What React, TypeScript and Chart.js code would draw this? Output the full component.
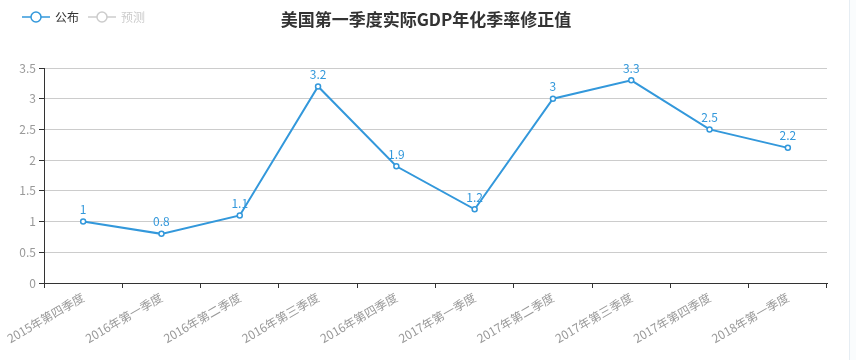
import React, { useEffect, useRef } from "react";
import { Chart, registerables } from "chart.js";

Chart.register(...registerables);

const categories = [
  "2015年第四季度",
  "2016年第一季度",
  "2016年第二季度",
  "2016年第三季度",
  "2016年第四季度",
  "2017年第一季度",
  "2017年第二季度",
  "2017年第三季度",
  "2017年第四季度",
  "2018年第一季度",
];
const publishedValues = [1, 0.8, 1.1, 3.2, 1.9, 1.2, 3, 3.3, 2.5, 2.2];
const forecastValues: (number | null)[] = [null, null, null, null, null, null, null, null, null, null];
const titleText = "美国第一季度实际GDP年化季率修正值";
const legendLabels = ["公布", "预测"];

const BLUE = "#3398DB";
const FONT = "'Noto Sans CJK SC', 'Noto Sans', sans-serif";

const overlayPlugin = {
  id: "overlay",
  afterDatasetsDraw(chart: any) {
    const ctx = chart.ctx;
    ctx.save();
    // data labels
    const meta = chart.getDatasetMeta(0);
    ctx.font = `12px ${FONT}`;
    ctx.fillStyle = BLUE;
    ctx.textAlign = "center";
    ctx.textBaseline = "bottom";
    meta.data.forEach((pt: any, i: number) => {
      const v = publishedValues[i];
      ctx.fillText(String(v), pt.x, pt.y - 6);
    });
    // title
    ctx.font = `bold 17px ${FONT}`;
    ctx.fillStyle = "#333";
    ctx.textBaseline = "middle";
    ctx.fillText(titleText, 426, 20);
    // legend
    const items = [
      { x: 22, color: BLUE, text: legendLabels[0], textColor: "#333" },
      { x: 88, color: "#ccc", text: legendLabels[1], textColor: "#ccc" },
    ];
    items.forEach((it) => {
      ctx.strokeStyle = it.color;
      ctx.lineWidth = 1.5;
      ctx.beginPath();
      ctx.moveTo(it.x, 17);
      ctx.lineTo(it.x + 28, 17);
      ctx.stroke();
      ctx.beginPath();
      ctx.arc(it.x + 14, 17, 5, 0, Math.PI * 2);
      ctx.fillStyle = "#fff";
      ctx.fill();
      ctx.stroke();
      ctx.font = `12px ${FONT}`;
      ctx.fillStyle = it.textColor;
      ctx.textAlign = "left";
      ctx.textBaseline = "middle";
      ctx.fillText(it.text, it.x + 33, 17);
    });
    ctx.restore();
  },
};

export default function App() {
  const ref = useRef<HTMLCanvasElement>(null);
  useEffect(() => {
    if (!ref.current) return;
    const chart = new Chart(ref.current, {
      type: "line",
      data: {
        labels: categories,
        datasets: [
          {
            label: legendLabels[0],
            data: publishedValues,
            borderColor: BLUE,
            backgroundColor: "#fff",
            borderWidth: 2,
            pointRadius: 2.5,
            pointBorderWidth: 1.5,
            pointBackgroundColor: "#fff",
            pointBorderColor: BLUE,
            tension: 0,
          },
          {
            label: legendLabels[1],
            data: forecastValues,
            borderColor: "#ccc",
            hidden: true,
          },
        ],
      },
      options: {
        animation: false,
        responsive: false,
        maintainAspectRatio: false,
        layout: { padding: { top: 68, right: 29, left: 0, bottom: 0 } },
        plugins: {
          legend: { display: false },
          title: { display: false },
          tooltip: { enabled: false },
        },
        scales: {
          x: {
            type: "category",
            offset: true,
            afterFit: (s: any) => {
              s.height = 77;
            },
            grid: {
              display: true,
              drawOnChartArea: false,
              drawTicks: true,
              tickLength: 5,
              offset: true,
              color: "#333",
              tickColor: "#333",
            },
            border: { color: "#333", width: 1 },
            ticks: {
              autoSkip: false,
              minRotation: 30,
              maxRotation: 30,
              color: "#999",
              font: { family: FONT, size: 12 },
              padding: 2,
            },
          },
          y: {
            min: 0,
            max: 3.5,
            afterFit: (s: any) => {
              s.width = 44;
            },
            grid: {
              color: "#ccc",
              tickColor: "#333",
              tickLength: 5,
            },
            border: { color: "#333", width: 1 },
            ticks: {
              stepSize: 0.5,
              color: "#999",
              font: { family: FONT, size: 12 },
              padding: 3,
              callback: (v: any) => String(Number(v)),
            },
          },
        },
      },
      plugins: [overlayPlugin],
    });
    return () => chart.destroy();
  }, []);
  return (
    <div style={{ position: "fixed", left: 0, top: 0, width: 856, height: 360, background: "#fff" }}>
      <canvas ref={ref} width={856} height={360} style={{ display: "block" }} />
      <div
        style={{
          position: "absolute",
          left: 849,
          top: 0,
          width: 7,
          height: 360,
          background: "#fafcfd",
          borderLeft: "1px solid #e6edf3",
          boxSizing: "border-box",
        }}
      />
    </div>
  );
}
